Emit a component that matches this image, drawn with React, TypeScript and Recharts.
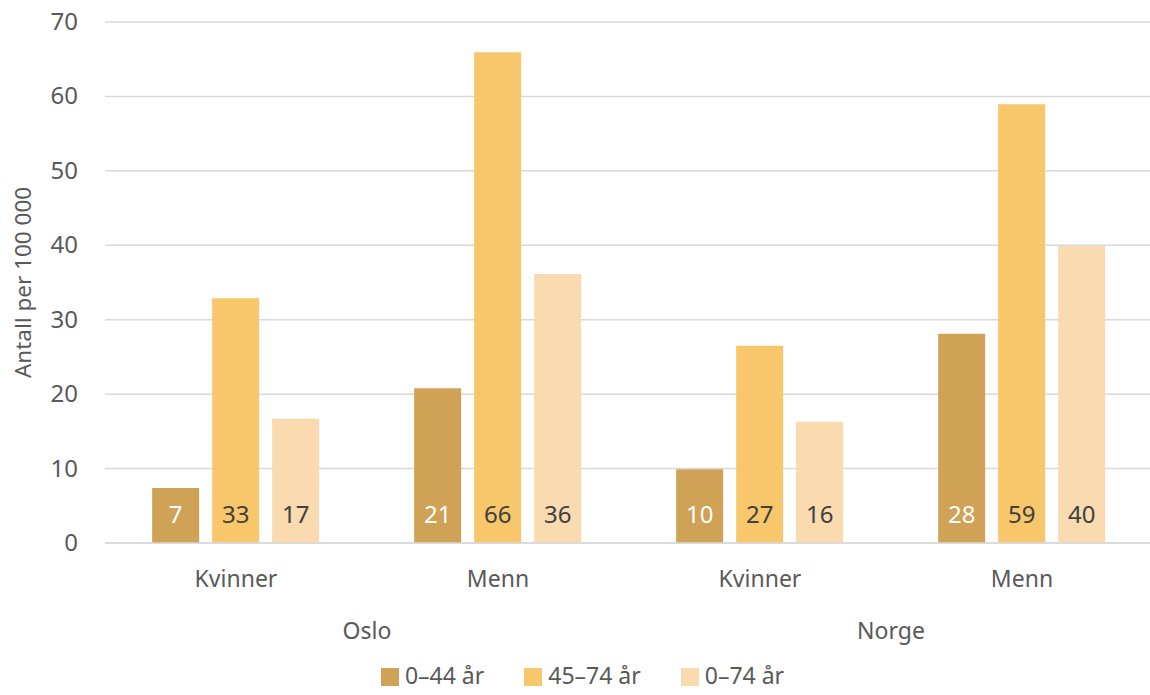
import { BarChart, Bar, XAxis, YAxis, CartesianGrid, Legend, LabelList } from 'recharts';

const subCategories = ['Kvinner', 'Menn', 'Kvinner', 'Menn'];
const groups = ['Oslo', 'Oslo', 'Norge', 'Norge'];
const age0to44 = [7.4, 20.8, 9.9, 28.1];
const age45to74 = [32.9, 65.95, 26.5, 58.95];
const age0to74 = [16.7, 36.15, 16.3, 39.9];
const yTicks = [0, 10, 20, 30, 40, 50, 60, 70];

const seriesNames = ['0–44 år', '45–74 år', '0–74 år'];
const seriesColors = ['#CFA256', '#F8C66B', '#FADAAF'];
const labelColors = ['#ffffff', '#404040', '#404040'];

const chartData = subCategories.map((sub, i) => ({
  key: `${groups[i]}-${sub}`,
  sub,
  group: groups[i],
  a: age0to44[i],
  b: age45to74[i],
  c: age0to74[i],
}));

const FONT = '"Noto Sans", "Open Sans", sans-serif';
const TEXT = '#595959';
const WIDTH = 1153;
const HEIGHT = 695;
const PLOT_LEFT = 105;
const PLOT_WIDTH = WIDTH - PLOT_LEFT;
const BAND = PLOT_WIDTH / subCategories.length;

const SubTick = ({ x, y, index }: any) => (
  <text x={x} y={y + 42} textAnchor="middle" fill={TEXT} fontSize={23} fontFamily={FONT}>
    {subCategories[index]}
  </text>
);

const GroupTick = ({ x, y, index }: any) => {
  if (index % 2 !== 0) return null;
  return (
    <text x={x + BAND / 2} y={y + 42} textAnchor="middle" fill={TEXT} fontSize={23} fontFamily={FONT}>
      {groups[index]}
    </text>
  );
};

const YTick = ({ x, y, payload }: any) => (
  <text x={x} y={y + 8} textAnchor="end" fill={TEXT} fontSize={24} fontFamily={FONT}>
    {payload.value}
  </text>
);

const LegendContent = () => (
  <div style={{ display: 'flex', justifyContent: 'center', gap: 40, fontFamily: FONT, fontSize: 23, lineHeight: '28px', color: TEXT, paddingLeft: 12 }}>
    {seriesNames.map((name, i) => (
      <div key={name} style={{ display: 'flex', alignItems: 'center' }}>
        <span style={{ width: 18, height: 18, background: seriesColors[i], marginRight: 6, marginTop: 4 }} />
        <span>{name}</span>
      </div>
    ))}
  </div>
);

const fmt = (v: any) => Math.round(Number(v)).toString();

export default function App() {
  const keys = ['a', 'b', 'c'];
  return (
    <div style={{ position: 'absolute', left: 0, top: 0, background: '#fff', width: 1150, height: 695, overflow: 'hidden' }}>
      <BarChart
        width={WIDTH}
        height={HEIGHT}
        data={chartData}
        margin={{ top: 22, right: 0, left: 0, bottom: 0 }}
        barCategoryGap="18%"
        barGap={13}
      >
        <CartesianGrid vertical={false} stroke="#d9d9d9" strokeWidth={1.5} />
        <XAxis
          xAxisId="level1"
          dataKey="key"
          height={52}
          tickLine={false}
          tickSize={0}
          axisLine={{ stroke: '#d9d9d9', strokeWidth: 1.5 }}
          tick={<SubTick />}
          interval={0}
        />
        <XAxis
          xAxisId="level2"
          dataKey="key"
          height={66}
          tickLine={false}
          tickSize={0}
          axisLine={false}
          tick={<GroupTick />}
          interval={0}
        />
        <YAxis
          width={PLOT_LEFT}
          domain={[0, 70]}
          ticks={yTicks}
          tickLine={false}
          tickSize={0}
          tickMargin={27}
          axisLine={false}
          tick={<YTick />}
          label={({ viewBox }: any) => (
            <text
              x={22}
              y={viewBox.y + viewBox.height / 2}
              transform={`rotate(-90, 22, ${viewBox.y + viewBox.height / 2})`}
              textAnchor="middle"
              dominantBaseline="central"
              fill={TEXT}
              fontSize={22.5}
              fontFamily={FONT}
            >
              Antall per 100 000
            </text>
          )}
        />
        <Legend verticalAlign="bottom" height={34} content={<LegendContent />} />
        {keys.map((k, i) => (
          <Bar key={k} xAxisId="level1" dataKey={k} name={seriesNames[i]} fill={seriesColors[i]} isAnimationActive={false}>
            <LabelList
              dataKey={k}
              position="insideBottom"
              offset={20}
              formatter={fmt}
              fill={labelColors[i]}
              fontSize={24}
              fontFamily={FONT}
            />
          </Bar>
        ))}
      </BarChart>
    </div>
  );
}
